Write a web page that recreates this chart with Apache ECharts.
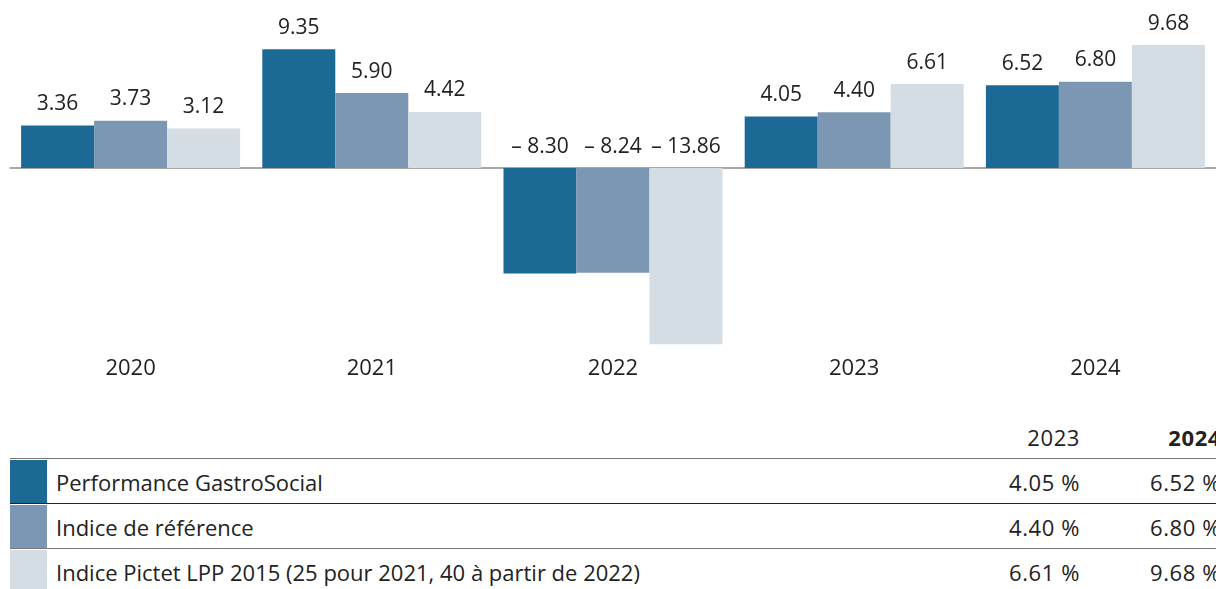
<!DOCTYPE html>
<html>
<head>
<meta charset="utf-8">
<script src="https://cdn.jsdelivr.net/npm/echarts@6/dist/echarts.min.js"></script>
<style>
    body { margin: 0; background: #fff; overflow: hidden; }
    #wrap { position: relative; width: 1216px; height: 589px; overflow: hidden; font-family: "Open Sans", sans-serif; color: #222; }
    #chart { position: absolute; left: 0; top: 0; width: 1216px; height: 400px; }
    .t { position: absolute; font-size: 22px; line-height: 26px; white-space: nowrap; }
    .r { text-align: right; letter-spacing: 0.6px; }
    .hl { position: absolute; left: 10px; width: 1206px; height: 0; }
    .sw { position: absolute; left: 10px; width: 37px; }
</style>
</head>
<body>
<div id="wrap">
    <div id="chart"></div>
    <div id="table"></div>
</div>
<script>
// données
var years = ['2020', '2021', '2022', '2023', '2024']
var seriesNames = ['Performance GastroSocial', 'Indice de référence', 'Indice Pictet LPP 2015 (25 pour 2021, 40 à partir de 2022)']
var perfGastro = [3.36, 9.35, -8.30, 4.05, 6.52]
var indiceRef = [3.73, 5.90, -8.24, 4.40, 6.80]
var indicePictet = [3.12, 4.42, -13.86, 6.61, 9.68]
var tableYears = ['2023', '2024']
var colors = ['#1d6996', '#7b97b3', '#d4dce4']

var allValues = [perfGastro, indiceRef, indicePictet]

function fmt(v) {
    return v < 0 ? '\u2013 ' + Math.abs(v).toFixed(2) : v.toFixed(2)
}

var myChart = echarts.init(document.getElementById('chart'))
var option = {
    animation: false,
    textStyle: { fontFamily: 'Open Sans' },
    grid: { left: 10, right: 0, top: 41, height: 305, containLabel: false },
    xAxis: [
        {
            type: 'category',
            data: years,
            axisLine: { show: false, onZero: false },
            axisTick: { show: false },
            axisLabel: { fontSize: 22, color: '#222', margin: 12 }
        },
        {
            type: 'category',
            data: years,
            position: 'bottom',
            axisLine: { show: true, onZero: true, lineStyle: { color: '#8a8a8a', width: 1.5 } },
            axisTick: { show: false },
            axisLabel: { show: false }
        }
    ],
    yAxis: {
        type: 'value',
        min: -14,
        max: 10,
        show: false,
        splitLine: { show: false }
    },
    series: allValues.map(function (vals, i) {
        return {
            name: seriesNames[i],
            type: 'bar',
            data: vals,
            barWidth: 73,
            barGap: '0%',
            itemStyle: { color: colors[i] },
            label: {
                show: true,
                position: 'top',
                distance: 11,
                fontSize: 21,
                color: '#222',
                formatter: function (p) { return fmt(p.value) }
            }
        }
    })
}
myChart.setOption(option)

// tableau sous le graphique
var tbl = document.getElementById('table')
var html = ''
var colRight = [1080, 1221]
tableYears.forEach(function (y, j) {
    html += '<div class="t r" style="top:424px;left:' + (colRight[j] - 200) + 'px;width:200px;' +
        (j === 1 ? 'font-weight:bold;' : '') + '">' + y + '</div>'
})
var rowTop = [459, 504, 549]
var lineColors = ['#777', '#222', '#777']
seriesNames.forEach(function (name, i) {
    var top = rowTop[i]
    html += '<div class="hl" style="top:' + (top - 1) + 'px;border-top:1.5px solid ' + lineColors[i] + ';"></div>'
    html += '<div class="sw" style="top:' + (top + 1) + 'px;height:' + (i === 2 ? 40 : 44) + 'px;background:' + colors[i] + ';"></div>'
    html += '<div class="t" style="top:' + (top + 10) + 'px;left:56px;">' + name + '</div>'
    tableYears.forEach(function (y, j) {
        var v = allValues[i][years.indexOf(y)]
        html += '<div class="t r" style="top:' + (top + 10) + 'px;left:' + (colRight[j] - 200) + 'px;width:200px;">' +
            v.toFixed(2) + ' %</div>'
    })
})
tbl.innerHTML = html
</script>
</body>
</html>
